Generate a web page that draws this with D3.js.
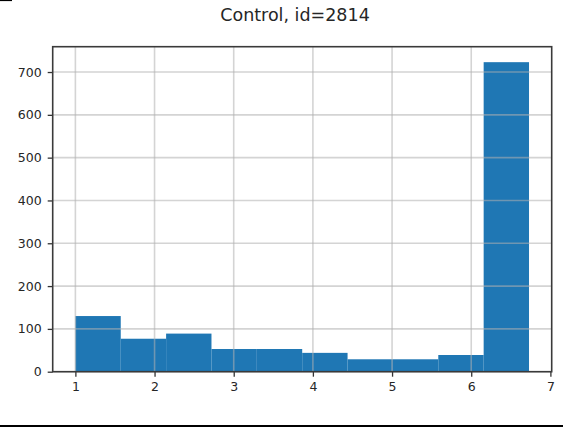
<!DOCTYPE html>
<html>
<head>
<meta charset="utf-8">
<script src="https://cdn.jsdelivr.net/npm/d3@7"></script>
<style>
  html, body { margin: 0; padding: 0; background: #fff; }
  svg { display: block; }
  text { font-family: "DejaVu Sans", sans-serif; fill: #262626; }
</style>
</head>
<body>
<div id="chart"></div>
<script>
// Histogram of response values, control group
const title = "Control, id=2814";
const binStart = 1.0;
const binEnd = 6.73;
const counts = [130, 77, 89, 53, 53, 44, 29, 29, 39, 723];
const xTicks = [1, 2, 3, 4, 5, 6, 7];
const yTicks = [0, 100, 200, 300, 400, 500, 600, 700];

const W = 563, H = 428;
const plot = { left: 52.7, right: 551.7, top: 46.7, bottom: 371.7 };

const svg = d3.select("#chart").append("svg")
  .attr("width", W).attr("height", H);

const nBins = counts.length;
const binW = (binEnd - binStart) / nBins;
const bins = counts.map((c, i) => ({
  x0: binStart + i * binW,
  x1: binStart + (i + 1) * binW,
  count: c
}));

const span = binEnd - binStart;
const x = d3.scaleLinear()
  .domain([binStart - 0.05 * span, binEnd + 0.05 * span])
  .range([plot.left, plot.right]);
const yMax = d3.max(counts) * 1.05;
const y = d3.scaleLinear()
  .domain([0, yMax])
  .range([plot.bottom, plot.top]);

// bars
svg.append("g").selectAll("rect")
  .data(bins)
  .join("rect")
  .attr("x", d => x(d.x0))
  .attr("y", d => y(d.count))
  .attr("width", d => x(d.x1) - x(d.x0))
  .attr("height", d => y(0) - y(d.count))
  .attr("fill", "#1f77b4");

// grid drawn over the bars
const grid = svg.append("g")
  .attr("stroke", "rgba(176,176,176,0.55)")
  .attr("stroke-width", 1.6);
grid.selectAll("line.gx")
  .data(xTicks.filter(t => x(t) <= plot.right - 2))
  .join("line")
  .attr("x1", d => x(d)).attr("x2", d => x(d))
  .attr("y1", plot.top).attr("y2", plot.bottom);
grid.selectAll("line.gy")
  .data(yTicks)
  .join("line")
  .attr("x1", plot.left).attr("x2", plot.right)
  .attr("y1", d => y(d)).attr("y2", d => y(d));

// axes
const xAxis = d3.axisBottom(x).tickValues(xTicks).tickSize(5).tickPadding(5)
  .tickFormat(d3.format("d"));
const yAxis = d3.axisLeft(y).tickValues(yTicks).tickSize(5).tickPadding(6)
  .tickFormat(d3.format("d"));

const gx = svg.append("g")
  .attr("transform", `translate(0,${plot.bottom})`)
  .call(xAxis);
const gy = svg.append("g")
  .attr("transform", `translate(${plot.left},0)`)
  .call(yAxis);
[gx, gy].forEach(g => {
  g.select(".domain").remove();
  g.selectAll(".tick line").attr("stroke", "#333").attr("stroke-width", 1.3);
  g.selectAll(".tick text")
    .attr("font-size", "12.5px")
    .attr("font-family", "DejaVu Sans, sans-serif")
    .attr("fill", "#262626");
});

// frame
svg.append("rect")
  .attr("x", plot.left).attr("y", plot.top)
  .attr("width", plot.right - plot.left)
  .attr("height", plot.bottom - plot.top)
  .attr("fill", "none")
  .attr("stroke", "#3a3a3a")
  .attr("stroke-width", 1.6);

// title
svg.append("text")
  .attr("x", 295)
  .attr("y", 21)
  .attr("text-anchor", "middle")
  .attr("font-size", "17.5px")
  .text(title);

// page rules
svg.append("line")
  .attr("x1", 0).attr("x2", 12).attr("y1", 0.5).attr("y2", 0.5)
  .attr("stroke", "#000").attr("stroke-width", 1.2);
svg.append("line")
  .attr("x1", 0).attr("x2", W).attr("y1", 426).attr("y2", 426)
  .attr("stroke", "#000").attr("stroke-width", 2);
</script>
</body>
</html>
